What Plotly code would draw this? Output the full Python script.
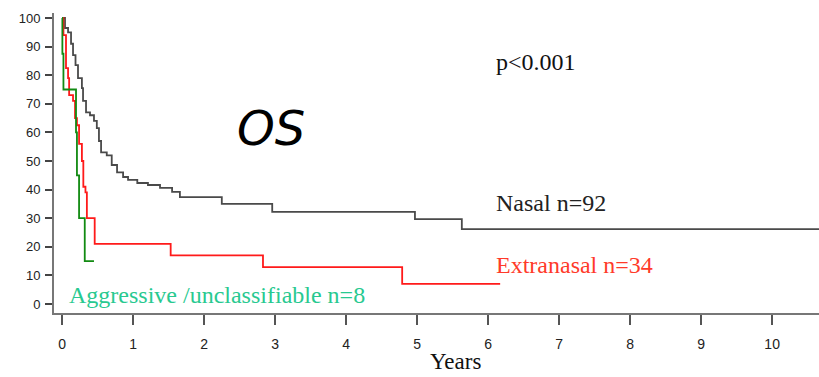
import plotly.graph_objects as go

# Kaplan-Meier curves (years, % surviving)
nasal_t = [0, 0.042, 0.085, 0.127, 0.155, 0.19, 0.225, 0.28, 0.296, 0.338, 0.394, 0.45, 0.49, 0.52, 0.55,
           0.63, 0.70, 0.775, 0.86, 0.93, 1.06, 1.21, 1.38, 1.55, 1.66, 2.25, 2.96, 4.97, 5.63, 10.66]
nasal_s = [100, 96.5, 95, 91, 87, 83.5, 79, 75.5, 71, 67, 66, 64, 61.5, 57, 53,
           52, 48.6, 46, 44.4, 43.4, 42.3, 41.6, 40.6, 39.2, 37.4, 35, 32.2, 29.7, 26.2, 26.2]

extra_t = [0, 0.02, 0.056, 0.085, 0.10, 0.155, 0.183, 0.21, 0.24, 0.28, 0.30, 0.33, 0.35, 0.46, 1.53, 2.83, 4.79, 6.17]
extra_s = [100, 94, 82.5, 79, 73, 71, 65, 62.5, 56, 50, 41, 39, 30, 21, 17, 12.9, 7, 7]

aggr_t = [0, 0.005, 0.02, 0.197, 0.21, 0.24, 0.32, 0.45]
aggr_s = [100, 87.5, 75, 60, 45, 30, 15, 15]

x_ticks = list(range(0, 11))
y_ticks = list(range(0, 101, 10))

fig = go.Figure()
fig.add_trace(go.Scatter(x=nasal_t, y=nasal_s, mode="lines", line=dict(shape="hv", color="#4a4a4a", width=1.8),
                         showlegend=False, hoverinfo="skip"))
fig.add_trace(go.Scatter(x=extra_t, y=extra_s, mode="lines", line=dict(shape="hv", color="#ff1a1a", width=1.8),
                         showlegend=False, hoverinfo="skip"))
fig.add_trace(go.Scatter(x=aggr_t, y=aggr_s, mode="lines", line=dict(shape="hv", color="#128a12", width=1.8),
                         showlegend=False, hoverinfo="skip"))

serif = "Liberation Serif, Times New Roman, serif"
anns = [
    dict(x=6.68, y=84.6, text="p<0.001", xanchor="center", yanchor="middle",
         font=dict(family=serif, size=24, color="#111")),
    dict(x=2.94, y=61.5, text="OS", xanchor="center", yanchor="middle",
         font=dict(family="DejaVu Sans", size=48, color="#000", style="italic")),
    dict(x=6.08, y=35.3, text="Nasal n=92", xanchor="left", yanchor="middle",
         font=dict(family=serif, size=24, color="#222")),
    dict(x=6.08, y=13.6, text="Extranasal n=34", xanchor="left", yanchor="middle",
         font=dict(family=serif, size=24, color="#ff3a2a")),
    dict(x=0.07, y=3.1, text="Aggressive /unclassifiable n=8", xanchor="left", yanchor="middle",
         font=dict(family=serif, size=24, color="#28c990")),
]
for a in anns:
    fig.add_annotation(xref="x", yref="y", showarrow=False, **a)

fig.add_annotation(xref="x", yref="paper", x=5.54, y=-0.207, text="Years", showarrow=False, borderpad=0,
                   xanchor="center", yanchor="bottom", font=dict(family=serif, size=23, color="#111"))

fig.update_layout(
    width=819, height=377,
    margin=dict(l=54, r=0, t=13, b=64),
    paper_bgcolor="white", plot_bgcolor="white",
    xaxis=dict(range=[-0.113, 10.66], tickvals=x_ticks, ticks="outside", ticklen=10, tickwidth=1.5,
               tickcolor="#555", showline=True, linecolor="#777", linewidth=2, showgrid=False, zeroline=False,
               tickfont=dict(family="Liberation Sans, Arial", size=14, color="#222"), ticklabelstandoff=7),
    yaxis=dict(range=[-3.15, 101.75], tickvals=y_ticks, ticks="outside", ticklen=7, tickwidth=1.5,
               tickcolor="#444", showline=True, linecolor="#777", linewidth=2, showgrid=False, zeroline=False,
               tickfont=dict(family="Liberation Sans, Arial", size=13, color="#222"), ticklabelstandoff=2),
)

fig.write_html("out.html")
